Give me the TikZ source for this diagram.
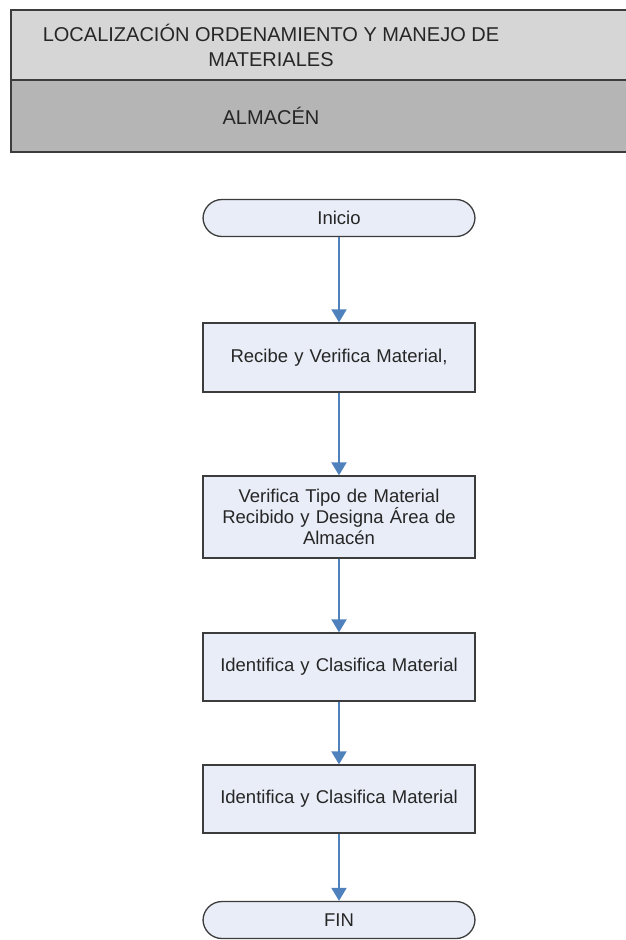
\documentclass[tikz,border=0pt]{standalone}
\usepackage{fontspec}
\setmainfont{Liberation Sans}
\usetikzlibrary{arrows.meta}

\definecolor{cabeza}{RGB}{214,214,214}
\definecolor{seccion}{RGB}{181,181,181}
\definecolor{relleno}{RGB}{233,237,247}
\definecolor{borde}{RGB}{60,60,60}
\definecolor{azul}{RGB}{79,129,189}

\begin{document}
\begin{tikzpicture}[x=1pt,y=-1pt,
    paso/.style={draw=borde, fill=relleno, line width=1.3pt, minimum width=272pt,
        text width=266pt, align=center, inner sep=0pt, text=black!85,
        font=\fontsize{18.5}{21}\selectfont},
    terminal/.style={paso, rounded corners=19pt, minimum height=37pt},
    flecha/.style={draw=azul, line width=2pt, -{Triangle[length=13pt,width=15pt]}}]
    \def\x{339}

    \useasboundingbox (0,0) rectangle (626,940);

    % Шапка
    \fill[cabeza] (11,10) rectangle (640,80);
    \fill[seccion] (11,80) rectangle (640,152);
    \draw[borde, line width=1.8pt] (11,10) rectangle (640,152);
    \draw[borde, line width=1.8pt] (11,80) -- (640,80);
    \node[align=center, text=black!85, font=\fontsize{20}{25}\selectfont] (titulo) at (271,45)
        {LOCALIZACIÓN ORDENAMIENTO Y MANEJO DE\\MATERIALES};
    \node[text=black!85, font=\fontsize{20}{25}\selectfont] (almacen) at (271,116) {ALMACÉN};

    % Блоки
    \node[terminal] (inicio) at (\x,218) {Inicio};
    \node[paso, minimum height=69pt] (recibe) at (\x,357.5) {Recibe y Verifica Material,};
    \node[paso, minimum height=82pt] (verifica) at (\x,517)
        {Verifica Tipo de Material\\Recibido y Designa Área de\\Almacén};
    \node[paso, minimum height=68pt] (identifica) at (\x,667) {Identifica y Clasifica Material};
    \node[paso, minimum height=68pt] (clasifica) at (\x,799) {Identifica y Clasifica Material};
    \node[terminal] (fin) at (\x,920) {FIN};

    % Стрелки
    \draw[flecha] (inicio) -- (recibe);
    \draw[flecha] (recibe) -- (verifica);
    \draw[flecha] (verifica) -- (identifica);
    \draw[flecha] (identifica) -- (clasifica);
    \draw[flecha] (clasifica) -- (fin);

\end{tikzpicture}
\end{document}
